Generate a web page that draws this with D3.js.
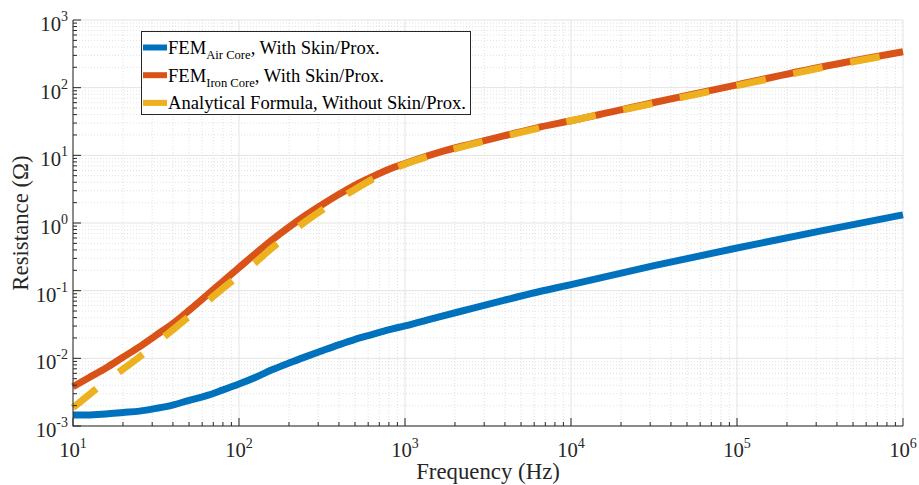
<!DOCTYPE html>
<html><head><meta charset="utf-8">
<script src="https://cdn.jsdelivr.net/npm/d3@7"></script>
<style>html,body{margin:0;padding:0;background:#fff;}</style>
</head><body>
<svg id="chart" width="919" height="485" font-family="'Liberation Serif', 'Times New Roman', 'DejaVu Serif', serif"></svg>
<script>
// ---- data ----
const freq = [10, 12.6, 15.8, 20, 25.1, 31.6, 39.8, 50.1, 63.1, 79.4, 100, 126, 158, 200, 251, 316, 398, 501, 631, 794, 1000, 1585, 2512, 3981, 6310, 10000, 31623, 100000, 316228, 1000000];
const rAir  = [1.45e-3, 1.46e-3, 1.50e-3, 1.58e-3, 1.66e-3, 1.82e-3, 2.04e-3, 2.40e-3, 2.79e-3, 3.39e-3, 4.17e-3, 5.25e-3, 6.76e-3, 8.51e-3, 0.0105, 0.0129, 0.0158, 0.0191, 0.0224, 0.0263, 0.0302, 0.0407, 0.0543, 0.0724, 0.0955, 0.123, 0.234, 0.427, 0.759, 1.32];
const rIron = [3.8e-3, 5.25e-3, 7.2e-3, 0.0104, 0.0148, 0.0219, 0.0324, 0.0513, 0.0832, 0.135, 0.219, 0.355, 0.562, 0.871, 1.29, 1.86, 2.63, 3.63, 4.79, 6.17, 7.59, 11.0, 14.8, 19.5, 25.7, 32.4, 60.3, 110, 200, 339];
const rAna  = [1.86e-3, 2.95e-3, 4.57e-3, 6.92e-3, 0.0105, 0.0166, 0.0263, 0.0417, 0.0661, 0.107, 0.166, 0.263, 0.427, 0.676, 1.05, 1.55, 2.24, 3.16, 4.37, 5.89, 7.41, 10.7, 14.5, 19.1, 25.1, 32.4, 58.9, 107, 195, 331];

const seriesNames = ["Air Core", "Iron Core", "Analytical Formula, Without Skin/Prox."];
const xTickExps = [1, 2, 3, 4, 5, 6];
const yTickExps = [-3, -2, -1, 0, 1, 2, 3];
const xLabel = "Frequency (Hz)";
const yLabel = "Resistance (\u03A9)";

// ---- layout ----
const L = 73, R = 903, T = 20, B = 426;
const svg = d3.select("#chart");
const x = d3.scaleLog().domain([10, 1e6]).range([L, R]);
const y = d3.scaleLog().domain([1e-3, 1e3]).range([B, T]);
const axisColor = "#262626";

const minorX = [], minorY = [];
for (let e = 1; e < 6; e++) for (let k = 2; k <= 9; k++) minorX.push(k * Math.pow(10, e));
for (let e = -3; e < 3; e++) for (let k = 2; k <= 9; k++) minorY.push(k * Math.pow(10, e));
const majorX = xTickExps.map(e => Math.pow(10, e));
const majorY = yTickExps.map(e => Math.pow(10, e));

const grid = svg.append("g");
grid.selectAll(".mgx").data(minorX).join("line")
  .attr("x1", d => x(d)).attr("x2", d => x(d)).attr("y1", T).attr("y2", B)
  .attr("stroke", "#d9d9d9").attr("stroke-width", 0.8).attr("stroke-dasharray", "1,2");
grid.selectAll(".mgy").data(minorY).join("line")
  .attr("y1", d => y(d)).attr("y2", d => y(d)).attr("x1", L).attr("x2", R)
  .attr("stroke", "#d9d9d9").attr("stroke-width", 0.8).attr("stroke-dasharray", "1,2");
grid.selectAll(".Mgx").data(majorX).join("line")
  .attr("x1", d => x(d)).attr("x2", d => x(d)).attr("y1", T).attr("y2", B)
  .attr("stroke", "#e3e3e3").attr("stroke-width", 1);
grid.selectAll(".Mgy").data(majorY).join("line")
  .attr("y1", d => y(d)).attr("y2", d => y(d)).attr("x1", L).attr("x2", R)
  .attr("stroke", "#e3e3e3").attr("stroke-width", 1);

// ---- lines ----
const line = d3.line().x(d => x(d[0])).y(d => y(d[1])).curve(d3.curveMonotoneX);
const plot = svg.append("g");
plot.append("path").datum(d3.zip(freq, rAir)).attr("d", line)
  .attr("fill", "none").attr("stroke", "#0072BD").attr("stroke-width", 7).attr("stroke-linejoin", "round");
plot.append("path").datum(d3.zip(freq, rIron)).attr("d", line)
  .attr("fill", "none").attr("stroke", "#D95319").attr("stroke-width", 7).attr("stroke-linejoin", "round");
plot.append("path").datum(d3.zip(freq, rAna)).attr("d", line)
  .attr("fill", "none").attr("stroke", "#EDB120").attr("stroke-width", 7).attr("stroke-dasharray", "30,28");

// ---- axes ----
const ax = svg.append("g");
ax.append("line").attr("x1", L).attr("x2", L).attr("y1", T).attr("y2", B + 0.5).attr("stroke", axisColor).attr("stroke-width", 1);
ax.append("line").attr("x1", L).attr("x2", R).attr("y1", B).attr("y2", B).attr("stroke", axisColor).attr("stroke-width", 1);
ax.selectAll(".tmx").data(minorX).join("line")
  .attr("x1", d => x(d)).attr("x2", d => x(d)).attr("y1", B).attr("y2", B - 4).attr("stroke", axisColor);
ax.selectAll(".tMx").data(majorX).join("line")
  .attr("x1", d => x(d)).attr("x2", d => x(d)).attr("y1", B).attr("y2", B - 8).attr("stroke", axisColor);
ax.selectAll(".tmy").data(minorY).join("line")
  .attr("y1", d => y(d)).attr("y2", d => y(d)).attr("x1", L).attr("x2", L + 4).attr("stroke", axisColor);
ax.selectAll(".tMy").data(majorY).join("line")
  .attr("y1", d => y(d)).attr("y2", d => y(d)).attr("x1", L).attr("x2", L + 8).attr("stroke", axisColor);

const xl = ax.selectAll(".xl").data(xTickExps).join("text")
  .attr("x", e => x(Math.pow(10, e))).attr("y", B + 31)
  .attr("text-anchor", "middle").attr("fill", axisColor).attr("font-size", 20.7);
xl.append("tspan").text("10");
xl.append("tspan").attr("font-size", 14).attr("dy", -9).text(e => e);

const yl = ax.selectAll(".yl").data(yTickExps).join("text")
  .attr("x", 68).attr("y", e => y(Math.pow(10, e)) + 11)
  .attr("text-anchor", "end").attr("fill", axisColor).attr("font-size", 20.7);
yl.append("tspan").text("10");
yl.append("tspan").attr("font-size", 14).attr("dy", -10).text(e => e);

svg.append("text").attr("x", (L + R) / 2).attr("y", 479).attr("text-anchor", "middle")
  .attr("font-size", 22.8).attr("fill", axisColor).text(xLabel);
svg.append("text").attr("transform", `translate(28,${(T + B) / 2}) rotate(-90)`).attr("text-anchor", "middle")
  .attr("font-size", 22.8).attr("fill", axisColor).text(yLabel);

// ---- legend ----
const lg = svg.append("g");
lg.append("rect").attr("x", 141.5).attr("y", 31.5).attr("width", 329).attr("height", 83)
  .attr("fill", "#fff").attr("stroke", axisColor).attr("stroke-width", 1);
const legendColors = ["#0072BD", "#D95319", "#EDB120"];
[0, 1, 2].forEach(i => {
  const cy = 47.5 + i * 27.7;
  lg.append("line").attr("x1", 143).attr("x2", 167).attr("y1", cy).attr("y2", cy)
    .attr("stroke", legendColors[i]).attr("stroke-width", 6);
  const t = lg.append("text").attr("x", 168).attr("y", cy + 6.3).attr("font-size", 18.6).attr("fill", "#000");
  if (i < 2) {
    t.append("tspan").text("FEM");
    t.append("tspan").attr("font-size", 12.6).attr("dy", 5).text(seriesNames[i]);
    t.append("tspan").attr("dy", -5).text(", With Skin/Prox.");
  } else {
    t.text(seriesNames[i]);
  }
});
</script>
</body></html>
